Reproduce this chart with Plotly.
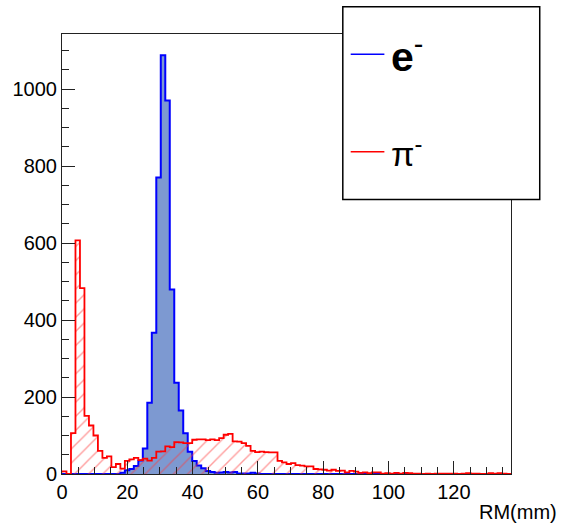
import numpy as np
import plotly.graph_objects as go

# Histogram binning (ROOT-style): 100 bins from 0 to 137.5 mm
NBINS = 100
X_LO, X_HI = 0.0, 137.5

# Electron (e-) bin contents
electron_counts = [0]*13 + [3, 10, 13, 21, 35, 66, 185, 367, 770, 1088, 970, 479, 237, 165, 106,
                            58, 34, 22, 15, 8, 5, 3, 4, 5, 4, 5, 1, 1, 1, 3, 1] + [0]*56

# Pion (pi-) bin contents
pion_counts = [7, 0, 106, 607, 483, 151, 126, 100, 60, 42, 46, 18, 26, 14, 34, 38, 42, 36, 40, 35,
               42, 58, 59, 72, 70, 83, 82, 80, 80, 89, 90, 90, 88, 90, 88, 93, 102, 104, 85, 84,
               80, 73, 60, 57, 58, 57, 56, 56, 34, 30, 26, 28, 23, 22, 20, 20, 13, 12, 11, 9,
               11, 8, 9, 4, 8, 6, 3, 4, 2, 4, 4, 1, 2, 1, 3, 1, 3, 2, 1, 1,
               0, 1, 0, 1, 1, 1, 1, 1, 0, 1, 2, 1, 1, 0, 0, 2, 1, 2, 1, 0]

x_ticks = [0, 20, 40, 60, 80, 100, 120]
y_ticks = [0, 200, 400, 600, 800, 1000]
x_title = "RM(mm)"
legend_labels = ["<b>e</b><sup>-</sup>", "π<sup>-</sup>"]

edges = np.linspace(X_LO, X_HI, NBINS + 1)


def step_xy(counts):
    c = list(counts)
    return list(edges), c + [c[-1]]


FONT = "Liberation Sans, Arial, Helvetica, sans-serif"
fig = go.Figure()

ex, ey = step_xy(electron_counts)
fig.add_trace(go.Scatter(
    x=ex, y=ey, mode="lines", line=dict(shape="hv", color="#0000ff", width=2),
    fill="tozeroy", fillcolor="rgb(125,153,209)", showlegend=False, hoverinfo="skip"))

px_, py_ = step_xy(pion_counts)
fig.add_trace(go.Scatter(
    x=px_, y=py_, mode="lines", line=dict(shape="hv", color="#ff0000", width=1.8),
    fill="tozeroy", fillcolor="rgba(0,0,0,0)",
    fillpattern=dict(shape="/", fgcolor="rgb(255,60,60)", bgcolor="rgba(0,0,0,0)",
                     size=10, solidity=0.14),
    showlegend=False, hoverinfo="skip"))

axis_common = dict(
    showgrid=False, zeroline=False, showline=True, linecolor="#222222", linewidth=1,
    mirror=True, ticks="inside", tickcolor="#222222", tickwidth=1,
    tickfont=dict(family=FONT, size=20, color="black"),
)

fig.update_xaxes(range=[X_LO, X_HI], tickvals=x_ticks, ticklen=13,
                 minor=dict(dtick=5, ticks="inside", ticklen=7, tickcolor="#222222"),
                 **axis_common)
fig.update_yaxes(range=[0, 1143], tickvals=y_ticks, ticklen=13,
                 minor=dict(dtick=50, ticks="inside", ticklen=7, tickcolor="#222222"),
                 **axis_common)

# Legend box drawn by hand (ROOT TLegend style)
fig.add_shape(type="rect", xref="paper", yref="paper", x0=0.6254, x1=1.064, y0=0.624, y1=1.062,
              fillcolor="white", line=dict(color="black", width=1.5), layer="above")
fig.add_shape(type="line", xref="paper", yref="paper", x0=0.643, x1=0.718, y0=0.954, y1=0.954,
              line=dict(color="#0000ff", width=1.5), layer="above")
fig.add_shape(type="line", xref="paper", yref="paper", x0=0.643, x1=0.718, y0=0.7325, y1=0.7325,
              line=dict(color="#ff0000", width=1.5), layer="above")
fig.add_annotation(xref="paper", yref="paper", x=0.729, y=0.954, xanchor="left", yanchor="middle",
                   text=legend_labels[0], showarrow=False,
                   font=dict(family=FONT, size=41, color="black"))
fig.add_annotation(xref="paper", yref="paper", x=0.729, y=0.7325, xanchor="left", yanchor="middle",
                   text=legend_labels[1], showarrow=False,
                   font=dict(family=FONT, size=34, color="black"))

fig.add_annotation(xref="paper", yref="paper", x=1.108, y=-0.086, xanchor="right", yanchor="middle",
                   text=x_title, showarrow=False, font=dict(family=FONT, size=20, color="black"))

fig.update_layout(
    width=562, height=525, margin=dict(l=59, r=51, t=34, b=51),
    paper_bgcolor="white", plot_bgcolor="white",
)

fig.write_html("out.html", config={"displayModeBar": False},
               post_script="document.body.style.margin='0';")
